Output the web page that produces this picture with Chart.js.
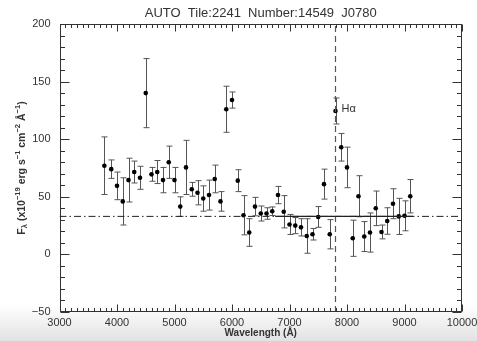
<!DOCTYPE html>
<html>
<head>
<meta charset="utf-8">
<title>AUTO Tile:2241 Number:14549 J0780</title>
<script src="https://cdn.jsdelivr.net/npm/chart.js@4.4.3/dist/chart.umd.min.js"></script>
<style>
  html,body{margin:0;padding:0}
  body{width:477px;height:341px;overflow:hidden;background:linear-gradient(to bottom,#fff 0,#fff 305px,#e2e2e2 341px)}
  #c{display:block}
</style>
</head>
<body>
<canvas id="c" width="477" height="341"></canvas>
<script>
// ─── Photometry (J-PAS narrow bands) ─────────────────────────────────────────
const wave = [3780, 3900, 4000, 4100, 4200, 4300, 4400, 4500, 4600, 4700,
              4800, 4900, 5000, 5100, 5200, 5300, 5400, 5500, 5600, 5700,
              5800, 5900, 6000, 6100, 6200, 6300, 6400, 6500, 6600, 6700,
              6800, 6900, 7000, 7100, 7200, 7300, 7400, 7500, 7600, 7700,
              7800, 7900, 8000, 8100, 8200, 8300, 8400, 8500, 8600, 8700,
              8800, 8900, 9000, 9100];
const flux = [77, 74, 59.5, 46, 64.5, 71.5, 66.5, 140, 69.5, 71.5,
              64.5, 80, 64.5, 41.5, 75.5, 56.5, 53.5, 48.5, 51.5, 65.5,
              46, 126, 134, 64, 34, 19, 41.5, 35.5, 35.5, 37.5,
              51.5, 37, 26, 25, 23.5, 16, 17.5, 32.5, 61, 17.5,
              124.5, 93, 75.5, 14, 50.5, 15.5, 19, 40, 19.5, 29,
              44, 33, 33.5, 50.5];
const fluxErr = [25, 8, 12, 20.5, 19, 9.5, 10, 30, 6, 10,
                 11, 14, 11, 8.5, 23.5, 6, 10.5, 11, 13, 12,
                 8.5, 20, 7, 9.5, 17, 12, 8, 6.5, 5, 3.7,
                 7.5, 14, 8.7, 7, 7.5, 15, 5, 9, 13, 12.7,
                 11.3, 12, 17.6, 15.7, 17.8, 13, 17, 15, 6, 11.5,
                 13, 15.7, 13, 14.5];

// continuum level, fit range and the filter holding H-alpha
const contLevel = 33;
const fitRange  = [6750, 9150];
const lineWave  = 7800;
const lineLabel = 'Hα';

const xRange = [3000, 10000];
const yRange = [-50, 200];

const FONT = 'Liberation Sans, Arial, sans-serif';
const INK  = '#333';

// ─── error bars, drawn just before the points ────────────────────────────────
const errorBars = {
  id: 'errorBars',
  beforeDatasetDraw(chart, args) {
    if (args.index !== 3) return;
    const { ctx, scales: { x, y } } = chart;
    ctx.save();
    ctx.strokeStyle = '#555';
    ctx.lineWidth = 1;
    wave.forEach((w, i) => {
      const px = Math.round(x.getPixelForValue(w)) + 0.5;
      const y1 = y.getPixelForValue(flux[i] + fluxErr[i]);
      const y2 = y.getPixelForValue(flux[i] - fluxErr[i]);
      ctx.beginPath();
      ctx.moveTo(px, y1); ctx.lineTo(px, y2);
      ctx.moveTo(px - 3, y1); ctx.lineTo(px + 3, y1);
      ctx.moveTo(px - 3, y2); ctx.lineTo(px + 3, y2);
      ctx.stroke();
    });
    ctx.restore();
  }
};

// ─── IDL-style box with inward ticks on all four sides ───────────────────────
const frame = {
  id: 'frame',
  afterDatasetsDraw(chart) {
    const { ctx, chartArea: a, scales: { x, y } } = chart;
    const L = Math.round(a.left) + 0.5, R = Math.round(a.right) - 0.5;
    const T = Math.round(a.top) + 0.5,  B = Math.round(a.bottom) - 0.5;
    ctx.save();
    ctx.strokeStyle = INK;
    ctx.lineWidth = 1;
    ctx.strokeRect(L, T, R - L, B - T);
    ctx.beginPath();
    for (let v = xRange[0]; v <= xRange[1]; v += 100) {
      const px = Math.round(x.getPixelForValue(v)) + 0.5;
      const len = v % 1000 === 0 ? 7 : 3.5;
      ctx.moveTo(px, B); ctx.lineTo(px, B - len);
      ctx.moveTo(px, T); ctx.lineTo(px, T + len);
    }
    for (let v = yRange[0]; v <= yRange[1]; v += 10) {
      const py = Math.round(y.getPixelForValue(v)) + 0.5;
      const len = v % 50 === 0 ? 9 : 4.5;
      ctx.moveTo(L, py); ctx.lineTo(L + len, py);
      ctx.moveTo(R, py); ctx.lineTo(R - len, py);
    }
    ctx.stroke();

    // line label next to the marker
    ctx.fillStyle = INK;
    ctx.font = '11px ' + FONT;
    ctx.textBaseline = 'middle';
    const hi = wave.indexOf(lineWave);
    ctx.fillText(lineLabel, x.getPixelForValue(lineWave) + 6, y.getPixelForValue(flux[hi]) - 2);
    ctx.restore();
  }
};

// text runs with sub/superscripts
function richText(ctx, parts, cx, cy, size) {
  const fontOf = p => (p.sup || p.sub ? 'bold ' + (size * 0.72) + 'px ' : 'bold ' + size + 'px ') + FONT;
  let w = 0;
  parts.forEach(p => { ctx.font = fontOf(p); w += ctx.measureText(p.t).width; });
  let px = cx - w / 2;
  parts.forEach(p => {
    ctx.font = fontOf(p);
    const dy = p.sup ? -size * 0.4 : p.sub ? size * 0.3 : 0;
    ctx.fillText(p.t, px, cy + dy);
    px += ctx.measureText(p.t).width;
  });
}

const labels = {
  id: 'labels',
  afterDraw(chart) {
    const { ctx, chartArea: a } = chart;
    const cx = (a.left + a.right) / 2;
    ctx.save();
    ctx.fillStyle = INK;
    ctx.textBaseline = 'middle';
    ctx.textAlign = 'center';
    ctx.font = '13px ' + FONT;
    ctx.fillText('AUTO  Tile:2241  Number:14549  J0780', cx, 13);
    ctx.textAlign = 'left';
    richText(ctx, [{ t: 'Wavelength (Å)' }], cx, 333, 10);
    ctx.translate(22, (a.top + a.bottom) / 2);
    ctx.rotate(-Math.PI / 2);
    richText(ctx, [
      { t: 'F' }, { t: 'λ', sub: true }, { t: ' (x10' }, { t: '−19', sup: true },
      { t: ' erg s' }, { t: '−1', sup: true }, { t: ' cm' }, { t: '−2', sup: true },
      { t: ' Å' }, { t: '−1', sup: true }, { t: ')' }
    ], 0, 0, 10.5);
    ctx.restore();
  }
};

const tickLabel = v => v < 0 ? '−' + (-v) : String(v);

new Chart(document.getElementById('c'), {
  type: 'scatter',
  data: {
    datasets: [
      { data: [{ x: xRange[0], y: contLevel }, { x: xRange[1], y: contLevel }],
        showLine: true, pointRadius: 0, borderColor: '#222', borderWidth: 1,
        borderDash: [7, 3, 1.5, 3] },
      { data: [{ x: fitRange[0], y: contLevel }, { x: fitRange[1], y: contLevel }],
        showLine: true, pointRadius: 0, borderColor: '#222', borderWidth: 1.2 },
      { data: [{ x: lineWave, y: yRange[0] }, { x: lineWave, y: yRange[1] }],
        showLine: true, pointRadius: 0, borderColor: '#555', borderWidth: 1.2,
        borderDash: [6, 4] },
      { data: wave.map((w, i) => ({ x: w, y: flux[i] })),
        showLine: false, pointRadius: 2.3, pointBackgroundColor: '#000',
        pointBorderColor: '#000', pointBorderWidth: 0 }
    ]
  },
  options: {
    responsive: false,
    animation: false,
    layout: { padding: { top: 24, right: 15, left: 0, bottom: 0 } },
    plugins: { legend: { display: false }, tooltip: { enabled: false } },
    scales: {
      x: {
        type: 'linear', min: xRange[0], max: xRange[1],
        grid: { display: false, drawTicks: false }, border: { display: false },
        ticks: { stepSize: 1000, color: INK, padding: 4, maxRotation: 0,
                 font: { family: FONT, size: 11 }, callback: tickLabel },
        afterFit: s => { s.height = 29; s.paddingLeft = 0; s.paddingRight = 0; }
      },
      y: {
        min: yRange[0], max: yRange[1],
        grid: { display: false, drawTicks: false }, border: { display: false },
        ticks: { stepSize: 50, color: INK, padding: 9,
                 font: { family: FONT, size: 11 }, callback: tickLabel },
        afterFit: s => { s.width = 59.5; s.paddingTop = 0; s.paddingBottom = 0; }
      }
    }
  },
  plugins: [errorBars, frame, labels]
});
</script>
</body>
</html>
